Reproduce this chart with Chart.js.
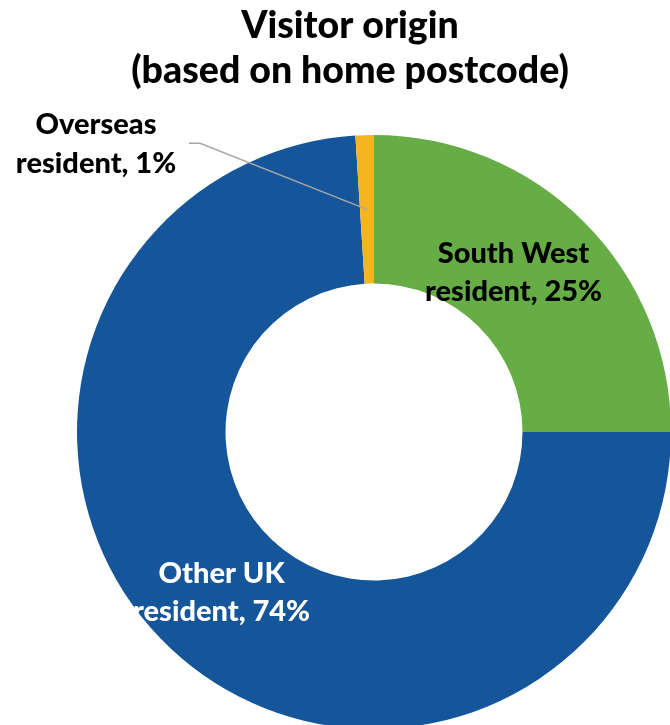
<!DOCTYPE html>
<html>
<head>
<meta charset="utf-8">
<script src="https://cdn.jsdelivr.net/npm/chart.js@4/dist/chart.umd.min.js"></script>
<style>
  html, body { margin: 0; padding: 0; background: #fff; overflow: hidden; }
  #wrap { position: relative; width: 670px; height: 725px; overflow: hidden; }
  #originChart { position: absolute; left: 0; top: 0; }
</style>
</head>
<body>
<div id="wrap">
  <canvas id="originChart" width="760" height="740" style="width:760px;height:740px"></canvas>
</div>
<script>
const titleLines = ['Visitor origin', '(based on home postcode)']
const categories = ['South West resident', 'Other UK resident', 'Overseas resident']
const shares = [25, 74, 1]
const colours = ['#67AD46', '#15569A', '#F4B51E']
const labelColours = ['#000000', '#ffffff', '#000000']

const FONT = 'Lato, "Open Sans", sans-serif'

// title drawn in two centred lines above the ring
const titlePlugin = {
  id: 'twoLineTitle',
  afterDraw(chart) {
    const ctx = chart.ctx
    ctx.save()
    ctx.fillStyle = '#000'
    ctx.font = `900 37.5px ${FONT}`
    ctx.textAlign = 'center'
    ctx.textBaseline = 'alphabetic'
    ctx.fillText(titleLines[0], 350, 38)
    ctx.fillText(titleLines[1], 350, 83)
    ctx.restore()
  }
}

// "Category, NN%" labels; the small slice gets an outside label with a leader line
const sliceLabels = {
  id: 'sliceLabels',
  afterDatasetsDraw(chart) {
    const ctx = chart.ctx
    const arcs = chart.getDatasetMeta(0).data
    ctx.save()
    ctx.font = `900 29px ${FONT}`
    ctx.textAlign = 'center'
    ctx.textBaseline = 'alphabetic'

    arcs.forEach((arc, i) => {
      const { x, y } = arc.getCenterPoint()
      const words = categories[i].split(' ')
      const first = words.slice(0, -1).join(' ')
      const second = `${words[words.length - 1]}, ${shares[i]}%`
      ctx.fillStyle = labelColours[i]

      if (shares[i] < 5) {
        const lx = x - 271
        ctx.fillText(first, lx, y - 75)
        ctx.fillText(second, lx, y - 36)
        ctx.strokeStyle = '#A6A6A6'
        ctx.lineWidth = 1.5
        ctx.beginPath()
        ctx.moveTo(x - 178, y - 66)
        ctx.lineTo(x - 167, y - 66)
        ctx.lineTo(x, y)
        ctx.stroke()
      } else {
        const shift = i === 0 ? -18 : 0
        ctx.fillText(first, x + shift, y - 11)
        ctx.fillText(second, x + shift, y + 27)
      }
    })
    ctx.restore()
  }
}

new Chart(document.getElementById('originChart'), {
  type: 'doughnut',
  data: {
    labels: categories,
    datasets: [{
      data: shares,
      backgroundColor: colours,
      borderWidth: 0
    }]
  },
  options: {
    responsive: false,
    animation: false,
    cutout: '50%',
    layout: {
      padding: { left: 77, top: 135, right: 89, bottom: 11 }
    },
    plugins: {
      legend: { display: false },
      title: { display: false },
      tooltip: { enabled: false }
    }
  },
  plugins: [sliceLabels, titlePlugin]
})
</script>
</body>
</html>
